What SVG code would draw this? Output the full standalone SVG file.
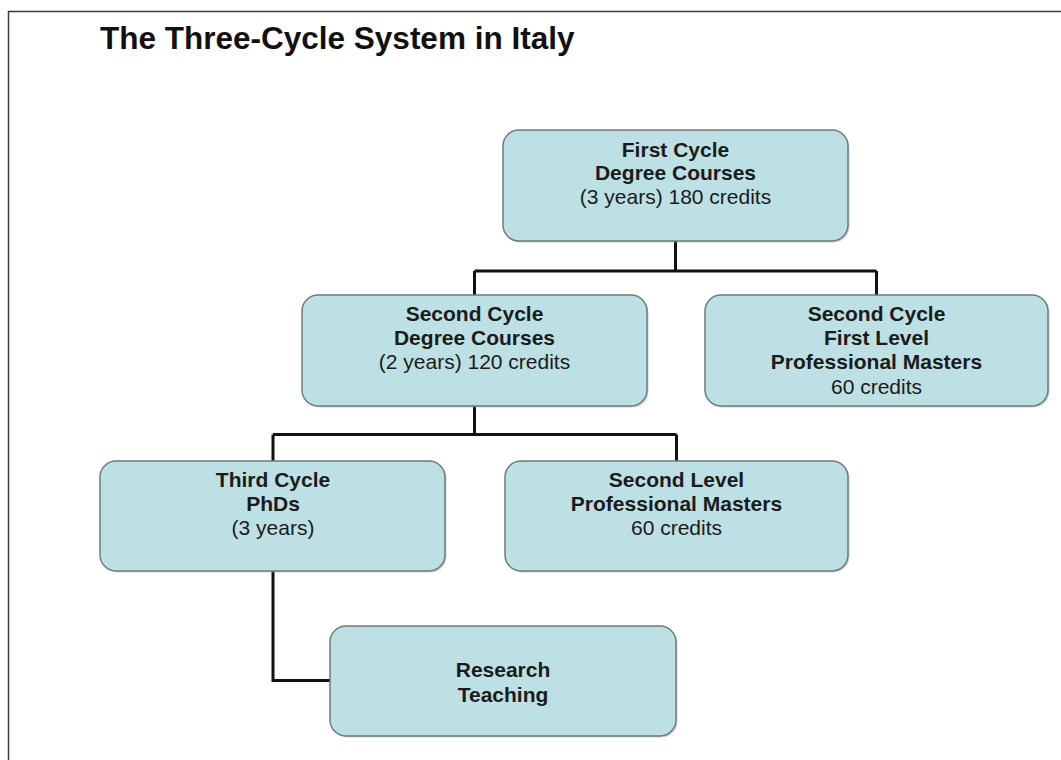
<svg xmlns="http://www.w3.org/2000/svg" width="1061" height="760" viewBox="0 0 1061 760">
<style>
.frame{fill:none;stroke:#3a3a3a;stroke-width:1.5}
.box{fill:#bde0e4;stroke:#6f7a7c;stroke-width:1.5}
.shadow{fill:#9aa7aa;opacity:0.5}
.conn{fill:none;stroke:#111;stroke-width:3;stroke-linejoin:miter}
.t{font-family:"Liberation Sans",Arial,sans-serif;font-size:21px;fill:#1b1b1b;text-anchor:middle}
.b{font-weight:bold}
.title{font-family:"Liberation Sans",Arial,sans-serif;font-size:31.5px;font-weight:bold;fill:#111}
</style>
<rect width="1061" height="760" fill="#ffffff"/>
<path class="frame" d="M8.5,760 V11.5 H1061"/>
<text class="title" x="100" y="49">The Three-Cycle System in Italy</text>
<g id="connectors">
<path class="conn" d="M675.5,241 V271 M474.5,271 H876.5 M474.5,271 V295 M876.5,271 V295"/>
<path class="conn" d="M474.5,406 V434.5 M273,434.5 H676.5 M273,434.5 V461 M676.5,434.5 V461"/>
<path class="conn" d="M273,571 V680.5 H330"/>
</g>
<g id="first-cycle">
<rect class="shadow" x="504.5" y="131.5" width="345" height="111" rx="16"/>
<rect class="box" x="503" y="130" width="345" height="111" rx="16"/>
<text class="t b" x="675.5" y="156.5">First Cycle</text>
<text class="t b" x="675.5" y="180">Degree Courses</text>
<text class="t" x="675.5" y="203.5">(3 years) 180 credits</text>
</g>
<g id="second-cycle-degree">
<rect class="shadow" x="303.5" y="296.5" width="345" height="111" rx="16"/>
<rect class="box" x="302" y="295" width="345" height="111" rx="16"/>
<text class="t b" x="474.5" y="321">Second Cycle</text>
<text class="t b" x="474.5" y="345">Degree Courses</text>
<text class="t" x="474.5" y="369">(2 years) 120 credits</text>
</g>
<g id="second-cycle-masters">
<rect class="shadow" x="706.5" y="296.5" width="343" height="111" rx="16"/>
<rect class="box" x="705" y="295" width="343" height="111" rx="16"/>
<text class="t b" x="876.5" y="321">Second Cycle</text>
<text class="t b" x="876.5" y="345">First Level</text>
<text class="t b" x="876.5" y="369.3">Professional Masters</text>
<text class="t" x="876.5" y="393.5">60 credits</text>
</g>
<g id="third-cycle">
<rect class="shadow" x="101.5" y="462.5" width="345" height="110" rx="16"/>
<rect class="box" x="100" y="461" width="345" height="110" rx="16"/>
<text class="t b" x="273" y="487">Third Cycle</text>
<text class="t b" x="273" y="511">PhDs</text>
<text class="t" x="273" y="535">(3 years)</text>
</g>
<g id="second-level-masters">
<rect class="shadow" x="506.5" y="462.5" width="343" height="110" rx="16"/>
<rect class="box" x="505" y="461" width="343" height="110" rx="16"/>
<text class="t b" x="676.5" y="487">Second Level</text>
<text class="t b" x="676.5" y="511">Professional Masters</text>
<text class="t" x="676.5" y="535">60 credits</text>
</g>
<g id="research-teaching">
<rect class="shadow" x="331.5" y="627.5" width="346" height="110" rx="16"/>
<rect class="box" x="330" y="626" width="346" height="110" rx="16"/>
<text class="t b" x="503" y="677">Research</text>
<text class="t b" x="503" y="702">Teaching</text>
</g>
</svg>
